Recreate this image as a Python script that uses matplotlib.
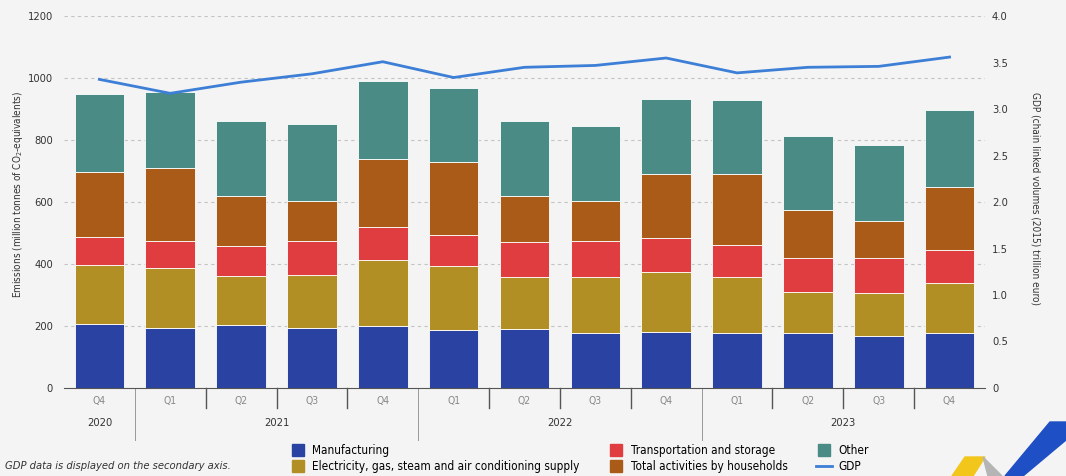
import numpy as np
import matplotlib.pyplot as plt
from matplotlib.lines import Line2D
from matplotlib.patches import Polygon
from matplotlib.ticker import FuncFormatter
import matplotlib.transforms as mtransforms

plt.rcParams['font.family'] = ['DejaVu Sans']
plt.rcParams['font.stretch'] = 'condensed'

quarters = ['Q4', 'Q1', 'Q2', 'Q3', 'Q4', 'Q1', 'Q2', 'Q3', 'Q4', 'Q1', 'Q2', 'Q3', 'Q4']
years = ['2020', '2021', '2022', '2023']
year_of = [0, 1, 1, 1, 1, 2, 2, 2, 2, 3, 3, 3, 3]

manufacturing = [205, 195, 203, 193, 201, 187, 189, 176, 182, 176, 178, 168, 176]
electricity = [192, 193, 158, 172, 212, 207, 169, 182, 193, 182, 131, 138, 162]
transport = [91, 86, 97, 109, 107, 100, 112, 116, 110, 103, 111, 114, 107]
households = [210, 237, 161, 128, 218, 235, 149, 128, 204, 231, 154, 119, 204]
other = [252, 245, 244, 250, 253, 238, 244, 245, 245, 237, 239, 245, 248]
gdp = [3.32, 3.17, 3.29, 3.38, 3.51, 3.34, 3.45, 3.47, 3.55, 3.39, 3.45, 3.46, 3.56]

series = [
    ('Manufacturing', manufacturing, '#2a43a3'),
    ('Electricity, gas, steam and air conditioning supply', electricity, '#b18f25'),
    ('Transportation and storage', transport, '#e03d40'),
    ('Total activities by households', households, '#ab5b18'),
    ('Other', other, '#4a8b85'),
]
gdp_color = '#3d7fd6'
bg = '#f4f4f4'

fig = plt.figure(figsize=(10.66, 4.76), dpi=100, facecolor=bg)
ax = fig.add_axes([0.060, 0.185, 0.864, 0.781], facecolor=bg)
ax2 = ax.twinx()

x = np.arange(len(quarters))
bottom = np.zeros(len(quarters))
for name, vals, col in series:
    ax.bar(x, vals, 0.7, bottom=bottom, color=col, edgecolor='white', linewidth=0.6, zorder=2)
    bottom += np.array(vals)

ax2.plot(x, gdp, color=gdp_color, lw=2, zorder=3)

ax.set_xlim(-0.5, len(quarters) - 0.5)
ax.set_ylim(0, 1200)
ax.set_yticks(range(0, 1201, 200))
ax2.set_ylim(0, 4)
ax2.set_yticks(np.arange(0, 4.01, 0.5))
ax2.yaxis.set_major_formatter(FuncFormatter(lambda v, p: '0' if v == 0 else f'{v:.1f}'))

for y in range(200, 1201, 200):
    ax.axhline(y, color='#c4c4c4', lw=0.8, ls=(0, (3, 3)), zorder=1)

for a in (ax, ax2):
    for s in a.spines.values():
        s.set_visible(False)
    a.tick_params(length=0, labelsize=8, colors='#333333')
ax.spines['bottom'].set_visible(True)
ax.spines['bottom'].set_color('#555555')
ax.spines['bottom'].set_linewidth(0.8)

ax.set_xticks(x)
ax.set_xticklabels(quarters, fontsize=7.5, color='#888888')
ax.tick_params(axis='x', pad=6)
ax.tick_params(axis='y', pad=8)
ax2.tick_params(axis='y', pad=5)

trans = mtransforms.blended_transform_factory(ax.transData, ax.transAxes)
for i in range(len(quarters) - 1):
    long = year_of[i] != year_of[i + 1]
    ax.plot([i + 0.5, i + 0.5], [0, -0.14 if long else -0.055], transform=trans,
            color='#999999' if long else '#555555', lw=0.7 if long else 1.0, clip_on=False)
for k, yr in enumerate(years):
    pos = [i for i in x if year_of[i] == k]
    ax.text(np.mean(pos), -0.095, yr, transform=trans, ha='center', va='center',
            fontsize=8, color='#333333')

ax.set_ylabel('Emissions (million tonnes of CO$_2$-equivalents)', fontsize=7.2, color='#333333')
ax.yaxis.set_label_coords(-0.042, 0.52)
ax2.set_ylabel('GDP (chain linked volumes (2015) trillion euro)', fontsize=7.2, color='#333333',
               rotation=270, va='center')
ax2.yaxis.set_label_coords(1.055, 0.51)

handles = [Line2D([], [], marker='s', ls='none', markersize=8, color=c) for _, _, c in series]
labels = [n for n, _, _ in series]
handles.append(Line2D([], [], color=gdp_color, lw=2))
labels.append('GDP')
fig.legend(handles, labels, ncol=3,
           loc='upper left', bbox_to_anchor=(0.272, 0.068), frameon=False, fontsize=8.5,
           handlelength=1.4, handletextpad=0.5, columnspacing=2.4, labelspacing=0.3,
           borderaxespad=0, borderpad=0)

fig.text(0.005, 0.021, 'GDP data is displayed on the secondary axis.', fontsize=8,
         style='italic', color='#333333', va='center')

# decorative corner logo
W, H = 1066, 476
def px(pts):
    return [(a / W, 1 - b / H) for a, b in pts]
fig.patches.append(Polygon(px([(965, 457), (985, 457), (973, 476), (952, 476)]),
                           closed=True, transform=fig.transFigure, color='#f2c61a'))
fig.patches.append(Polygon(px([(983, 457), (1002, 476), (988, 476)]),
                           closed=True, transform=fig.transFigure, color='#b5b5b5'))
fig.patches.append(Polygon(px([(1050, 422), (1066, 422), (1066, 440), (1023, 476), (1005, 476)]),
                           closed=True, transform=fig.transFigure, color='#1f4fc4'))

fig.savefig('out.png', dpi=100, facecolor=bg)
